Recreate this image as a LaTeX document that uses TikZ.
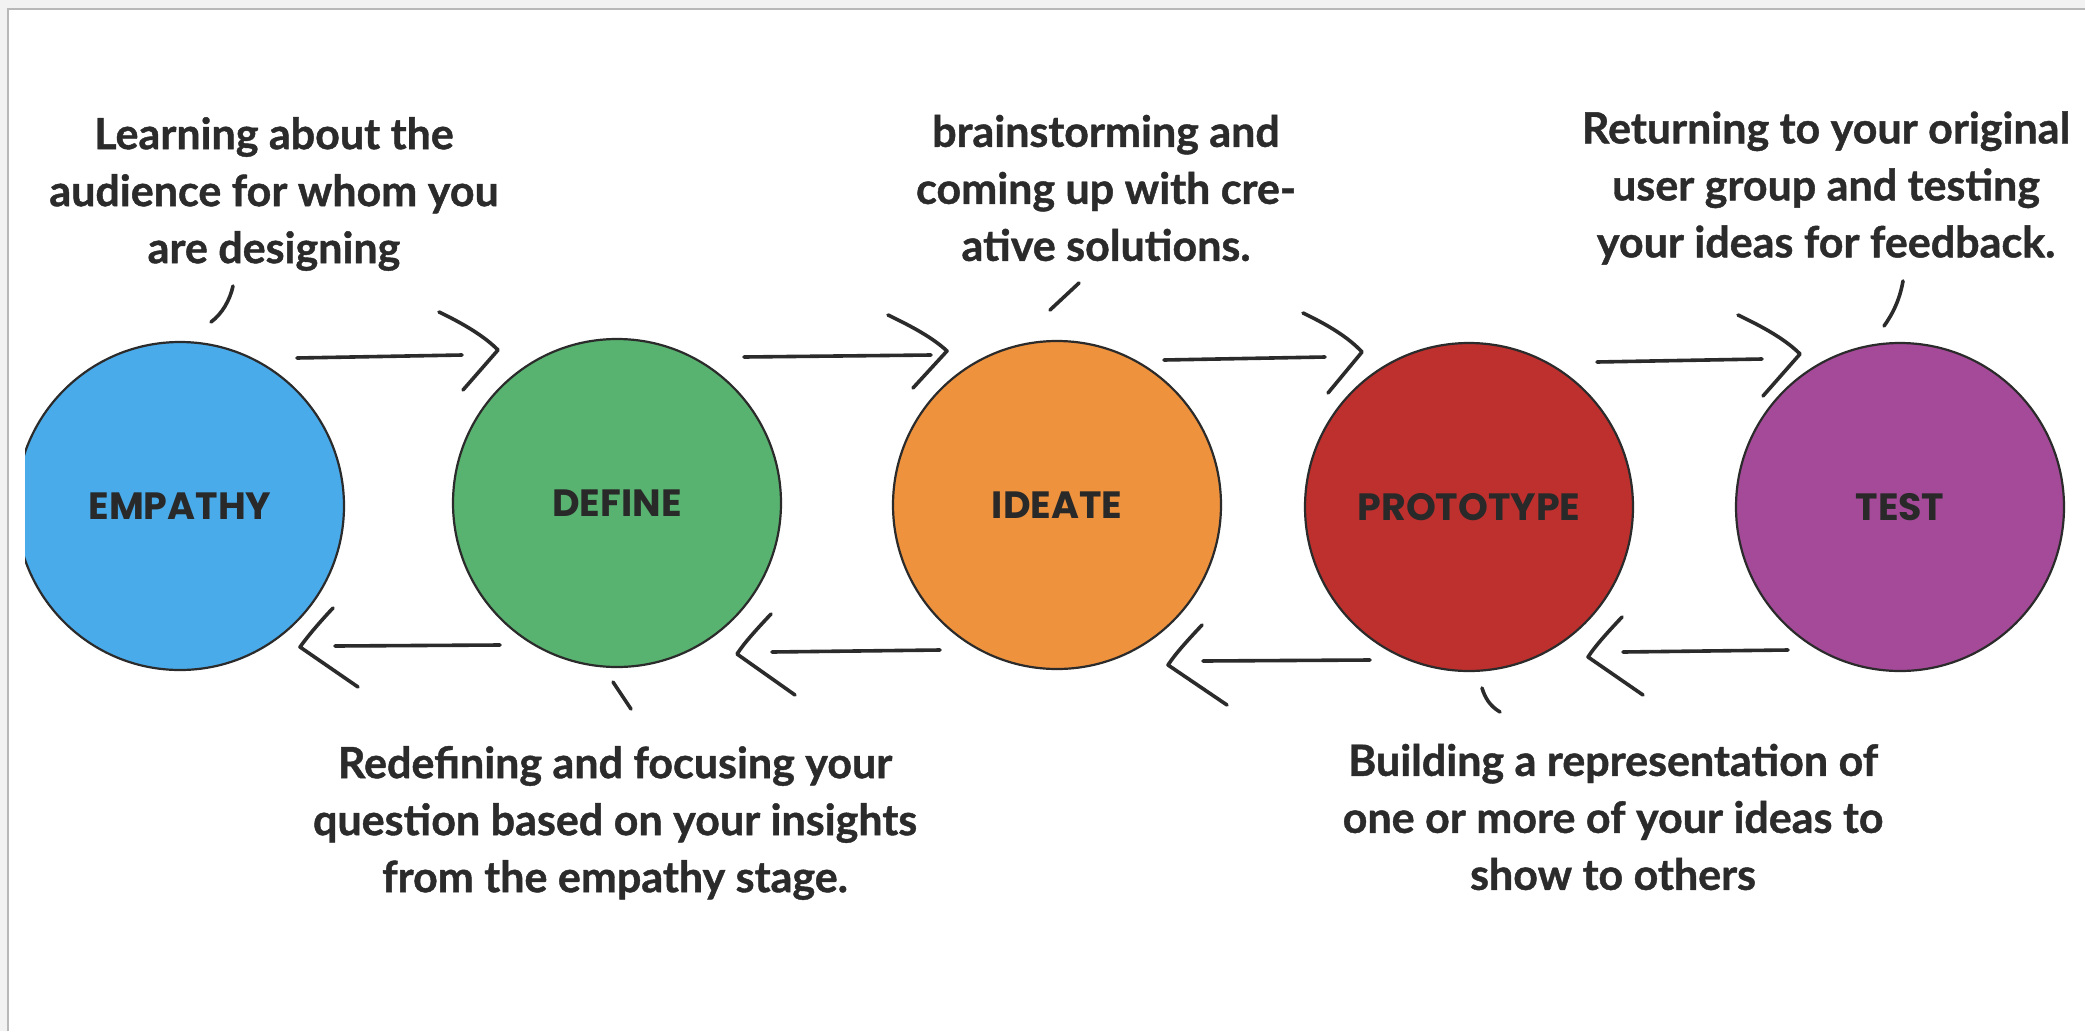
\documentclass[tikz,border=0pt]{standalone}
\usepackage{fontspec}
\setmainfont{Lato}[BoldFeatures={FakeBold=1}]
\newfontfamily\stagefont{Poppins}
\usetikzlibrary{calc}
\definecolor{empc}{HTML}{4AABEB}
\definecolor{defc}{HTML}{58B270}
\definecolor{ideac}{HTML}{EE923E}
\definecolor{protc}{HTML}{BE302E}
\definecolor{testc}{HTML}{A54A99}
\definecolor{ink}{HTML}{2B2B2B}
\definecolor{framegray}{HTML}{F2F2F2}
\definecolor{frameline}{HTML}{B8B8B8}
\tikzset{
  stage/.style={circle, draw=ink, line width=2.2pt, minimum size=328pt, inner sep=0pt,
    font=\stagefont\bfseries\fontsize{38}{40}\selectfont, text=ink!95!black},
  note/.style={align=center, text=ink, inner sep=0pt,
    font=\bfseries\fontsize{43}{57}\selectfont},
  conn/.style={draw=ink, line width=3.6pt, line cap=round, line join=round},
  tick/.style={draw=ink, line width=3.6pt, line cap=round}
}
\newcommand{\stg}[1]{\raisebox{-7pt}{#1}}
\begin{document}
\begin{tikzpicture}[x=1pt,y=-1pt]
\useasboundingbox (0,0) rectangle (2085,1031);
\fill[white] (0,0) rectangle (2085,1031);
\fill[framegray] (0,0) rectangle (2085,9);
\fill[framegray] (0,0) rectangle (8,1031);
\draw[frameline, line width=1.2pt] (8,1031) -- (8,9) -- (2085,9);

% stages
\begin{scope}
  \clip (25,0) rectangle (2085,1031);
  \node[stage, fill=empc] (emp) at (180,506) {\stg{EMPATHY}};
\end{scope}
\node[stage, fill=defc] (def) at (617,503) {\stg{DEFINE}};
\node[stage, fill=ideac] (idea) at (1057,505) {\stg{IDEATE}};
\node[stage, fill=protc] (prot) at (1469,507) {\stg{PROTOTYPE}};
\node[stage, fill=testc] (test) at (1900,507) {\stg{TEST}};

% notes
\node[note] (n1) at (274,194) {Learning about the\\audience for whom you\\are designing};
\node[note] (n2) at (1106,188) {brainstorming and\\coming up with cre-\\ative solutions.};
\node[note] (n3) at (1826,188) {Returning to your original\\user group and testing\\your ideas for feedback.};
\node[note] (n4) at (615,823) {Redefining and focusing your\\question based on your insights\\from the empathy stage.};
\node[note] (n5) at (1613,817) {Building a representation of\\one or more of your ideas to\\show to others};

% callout ticks
\coordinate (t1a) at (233,286); \coordinate (t1b) at (211,322);
\draw[tick] (t1a) .. controls (230,300) and (222,314) .. (t1b);
\coordinate (t2a) at (1079,283); \coordinate (t2b) at (1050,310);
\draw[tick] (t2a) -- (t2b);
\coordinate (t3a) at (1903,281); \coordinate (t3b) at (1884,326);
\draw[tick] (t3a) .. controls (1900,298) and (1894,312) .. (t3b);
\coordinate (t4a) at (613,682); \coordinate (t4b) at (631,709);
\draw[tick] (t4a) -- (t4b);
\coordinate (t5a) at (1482,688); \coordinate (t5b) at (1500,712);
\draw[tick] (t5a) .. controls (1485,698) and (1490,706) .. (t5b);

% forward arrows (top)
\coordinate (f1s) at (297,358); \coordinate (f1e) at (462,355);
\draw[conn] (f1s) -- (f1e);
\coordinate (f1u) at (439,312); \coordinate (f1t) at (498,350); \coordinate (f1l) at (463,390);
\draw[conn] (f1u) .. controls (464,324) and (484,336) .. (f1t) -- (f1l);

\coordinate (f2s) at (744,357); \coordinate (f2e) at (931,355);
\draw[conn] (f2s) -- (f2e);
\coordinate (f2u) at (888,315); \coordinate (f2t) at (947,351); \coordinate (f2l) at (913,388);
\draw[conn] (f2u) .. controls (913,327) and (933,338) .. (f2t) -- (f2l);

\coordinate (f3s) at (1164,360); \coordinate (f3e) at (1325,357);
\draw[conn] (f3s) -- (f3e);
\coordinate (f3u) at (1303,313); \coordinate (f3t) at (1362,352); \coordinate (f3l) at (1328,393);
\draw[conn] (f3u) .. controls (1328,325) and (1348,337) .. (f3t) -- (f3l);

\coordinate (f4s) at (1597,362); \coordinate (f4e) at (1762,359);
\draw[conn] (f4s) -- (f4e);
\coordinate (f4u) at (1738,315); \coordinate (f4t) at (1800,354); \coordinate (f4l) at (1763,396);
\draw[conn] (f4u) .. controls (1763,327) and (1785,339) .. (f4t) -- (f4l);

% backward arrows (bottom)
\coordinate (b1s) at (500,645); \coordinate (b1e) at (335,646);
\draw[conn] (b1s) -- (b1e);
\coordinate (b1u) at (333,608); \coordinate (b1t) at (300,647); \coordinate (b1l) at (358,687);
\draw[conn] (b1u) .. controls (318,624) and (308,636) .. (b1t) -- (b1l);

\coordinate (b2s) at (940,650); \coordinate (b2e) at (772,652);
\draw[conn] (b2s) -- (b2e);
\coordinate (b2u) at (771,614); \coordinate (b2t) at (737,654); \coordinate (b2l) at (795,695);
\draw[conn] (b2u) .. controls (756,630) and (745,642) .. (b2t) -- (b2l);

\coordinate (b3s) at (1370,660); \coordinate (b3e) at (1203,661);
\draw[conn] (b3s) -- (b3e);
\coordinate (b3u) at (1202,625); \coordinate (b3t) at (1168,665); \coordinate (b3l) at (1227,705);
\draw[conn] (b3u) .. controls (1187,641) and (1176,653) .. (b3t) -- (b3l);

\coordinate (b4s) at (1788,650); \coordinate (b4e) at (1623,652);
\draw[conn] (b4s) -- (b4e);
\coordinate (b4u) at (1622,617); \coordinate (b4t) at (1588,657); \coordinate (b4l) at (1643,695);
\draw[conn] (b4u) .. controls (1607,633) and (1596,645) .. (b4t) -- (b4l);
\end{tikzpicture}
\end{document}
